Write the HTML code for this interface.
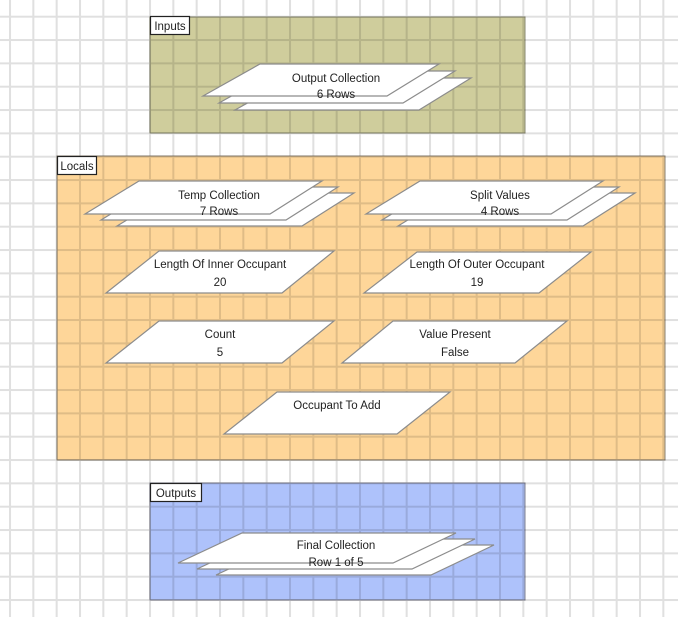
<!DOCTYPE html>
<html><head><meta charset="utf-8"><style>
html,body{margin:0;padding:0;background:#fff;width:678px;height:617px;overflow:hidden}
svg text{font-family:"Liberation Sans",sans-serif;font-size:11.5px;fill:#222;text-anchor:middle}
</style></head><body>
<svg width="678" height="617" viewBox="0 0 678 617" xmlns="http://www.w3.org/2000/svg">
<defs>
<pattern id="g" patternUnits="userSpaceOnUse" x="9" y="15.7" width="23.333" height="23.333">
<rect x="0" y="0" width="2" height="23.333" fill="rgba(0,0,0,0.12)"/>
<rect x="2" y="0" width="21.333" height="2" fill="rgba(0,0,0,0.12)"/>
</pattern>
</defs>
<rect x="150" y="17" width="375" height="116" fill="#cfcd9c" stroke="#8a8a70" stroke-width="1"/>
<rect x="57" y="156" width="608" height="304" fill="#fed699" stroke="#8a8070" stroke-width="1"/>
<rect x="150" y="483" width="375" height="117" fill="#aec2fb" stroke="#7f8090" stroke-width="1"/>
<rect x="0" y="0" width="678" height="617" fill="url(#g)"/>
<g stroke="#222" stroke-width="1.2" fill="#fff">
<rect x="150.5" y="16.5" width="39" height="18"/>
<rect x="57.5" y="156.5" width="39" height="18"/>
<rect x="150.5" y="483.5" width="51" height="18"/>
</g>
<g style="font-size:11.5px">
<text x="170" y="30">Inputs</text>
<text x="77" y="170">Locals</text>
<text x="176" y="497">Outputs</text>
</g>
<g fill="#fff" stroke="#8c8c8c" stroke-width="1.2">
<!-- inputs stack -->
<polygon points="292,78 471,78 419,110 235,110"/>
<polygon points="276,71 455,71 403,103 219,103"/>
<polygon points="260,64 439,64 387,96 203,96"/>
<!-- temp -->
<polygon points="171,193 354,193 302,226 117,226"/>
<polygon points="155,187 338,187 286,220 101,220"/>
<polygon points="139,181 322,181 270,214 85,214"/>
<!-- split -->
<polygon points="452,193 635,193 583,226 398,226"/>
<polygon points="436,187 619,187 567,220 382,220"/>
<polygon points="420,181 603,181 551,214 366,214"/>
<polygon points="159,251 334,251 282,293 106,293"/>
<polygon points="417,252 591,252 539,293 364,293"/>
<polygon points="159,321 334,321 282,363 106,363"/>
<polygon points="393,321 567,321 515,363 342,363"/>
<polygon points="277,392 450,392 397,434 224,434"/>
<!-- final -->
<polygon points="280,545 494,545 431,575 216,575"/>
<polygon points="261,539 475,539 412,569 197,569"/>
<polygon points="242,533 456,533 393,563 178,563"/>
</g>
<text x="336" y="82">Output Collection</text>
<text x="336" y="98">6 Rows</text>
<text x="219" y="199">Temp Collection</text>
<text x="219" y="215">7 Rows</text>
<text x="500" y="199">Split Values</text>
<text x="500" y="215">4 Rows</text>
<text x="220" y="268">Length Of Inner Occupant</text>
<text x="220" y="286">20</text>
<text x="477" y="268">Length Of Outer Occupant</text>
<text x="477" y="286">19</text>
<text x="220" y="338">Count</text>
<text x="220" y="356">5</text>
<text x="455" y="338">Value Present</text>
<text x="455" y="356">False</text>
<text x="337" y="409">Occupant To Add</text>
<text x="336" y="549">Final Collection</text>
<text x="336" y="566">Row 1 of 5</text>
</svg>
</body></html>
